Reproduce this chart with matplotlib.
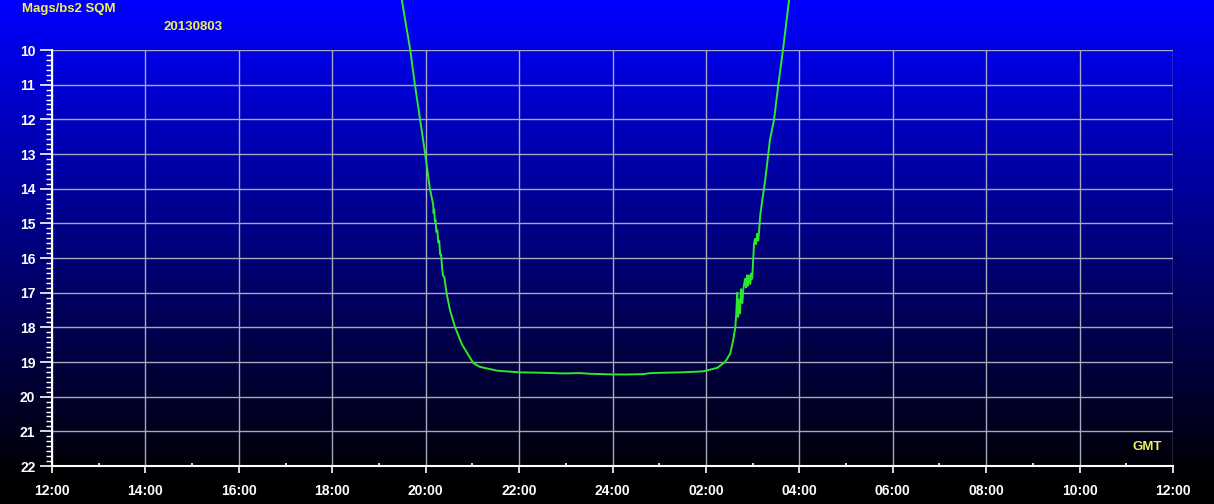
import matplotlib
matplotlib.use("Agg")
import matplotlib.pyplot as plt
import numpy as np
from matplotlib.ticker import MultipleLocator, AutoMinorLocator

# --- data: hours after 12:00 (GMT) and sky brightness (mag/arcsec^2) ---
hours = [7.45, 7.49, 7.67, 7.77, 7.88, 7.99, 8.09, 8.16, 8.17, 8.18, 8.20, 8.21,
         8.23, 8.25, 8.27, 8.29, 8.31, 8.33, 8.35, 8.37, 8.40, 8.43, 8.46, 8.52,
         8.63, 8.78, 9.02, 9.16, 9.53, 10.02, 10.50, 10.94, 11.30, 11.52, 11.80,
         12.01, 12.30, 12.66, 12.81, 13.10, 13.45, 13.94, 14.24, 14.41, 14.52,
         14.58, 14.63, 14.65, 14.67, 14.69, 14.71, 14.73, 14.75, 14.78, 14.80,
         14.84, 14.86, 14.88, 14.90, 14.92, 14.95, 14.97, 14.99, 15.01, 15.03,
         15.05, 15.07, 15.10, 15.12, 15.14, 15.16, 15.20, 15.27, 15.37, 15.46,
         15.55, 15.65, 15.78, 15.82]
mags = [8.40, 8.56, 10.00, 11.00, 12.00, 13.00, 14.00, 14.45, 14.70, 14.60, 14.95,
        14.90, 15.25, 15.20, 15.55, 15.50, 15.90, 15.90, 16.25, 16.50, 16.55,
        16.85, 17.10, 17.50, 18.00, 18.50, 19.03, 19.14, 19.25, 19.30, 19.31,
        19.33, 19.32, 19.34, 19.35, 19.36, 19.36, 19.35, 19.32, 19.31, 19.30,
        19.27, 19.17, 19.00, 18.76, 18.40, 18.00, 17.60, 17.00, 17.70, 17.20,
        17.60, 16.90, 17.30, 16.90, 16.60, 16.85, 16.50, 16.80, 16.50, 16.75,
        16.45, 16.60, 16.10, 15.60, 15.45, 15.60, 15.30, 15.50, 15.20, 14.80,
        14.40, 13.75, 12.60, 12.00, 11.00, 10.00, 8.56, 8.30]

x_ticks = list(range(0, 25, 2))
x_labels = ["12:00", "14:00", "16:00", "18:00", "20:00", "22:00", "24:00",
            "02:00", "04:00", "06:00", "08:00", "10:00", "12:00"]
y_ticks = list(range(10, 23))

W, H = 1214, 504
fig = plt.figure(figsize=(W / 100, H / 100), dpi=100)

# background gradient (bright blue at top -> black at bottom)
bg = fig.add_axes([0, 0, 1, 1], zorder=0)
grad = np.linspace(1.0, 0.0, 256)
grad = np.clip((grad * 504 - 24) / 480, 0, 1)
img = np.zeros((256, 1, 3))
img[:, 0, 2] = grad
bg.imshow(img, aspect="auto", extent=[0, 1, 0, 1], origin="upper")
bg.set_axis_off()

ax = fig.add_axes([52 / W, 1 - 466 / H, (1173 - 52) / W, (466 - 50) / H], zorder=1)
ax.patch.set_alpha(0)
ax.set_xlim(0, 24)
ax.set_ylim(22, 10)

grid_c = "#a8a8bc"
for xv in x_ticks:
    ax.axvline(xv, color=grid_c, lw=1.0, zorder=1)
for yv in y_ticks:
    ax.axhline(yv, color=grid_c, lw=1.0, zorder=1)

ax.plot(hours, mags, color="#2ee82e", lw=1.4, zorder=3, clip_on=False)

ax.set_xticks(x_ticks)
ax.set_xticklabels(x_labels)
ax.set_yticks(y_ticks)
ax.xaxis.set_minor_locator(MultipleLocator(1))
ax.yaxis.set_minor_locator(AutoMinorLocator(7))

for sp in ["top", "right"]:
    ax.spines[sp].set_visible(False)
for sp in ["left", "bottom"]:
    ax.spines[sp].set_color("white")
    ax.spines[sp].set_linewidth(1.5)

ax.tick_params(axis="x", which="major", direction="out", length=5, width=1.2,
               colors="white", pad=8, labelsize=10)
ax.tick_params(axis="x", which="minor", direction="in", length=2.5, width=1.2,
               colors="white")
ax.tick_params(axis="y", which="major", direction="out", length=8.5, width=1.2,
               colors="white", pad=3.5, labelsize=10)
ax.tick_params(axis="y", which="minor", direction="out", length=4, width=1.0,
               colors="white")
for lab in ax.get_xticklabels() + ax.get_yticklabels():
    lab.set_fontfamily("Liberation Sans")
    lab.set_fontweight("bold")
    lab.set_color("white")

yel = "#f2f25a"
fig.text(22 / W, 1 - 9 / H, "Mags/bs2 SQM", color=yel, fontsize=9.5,
         fontweight="bold", family="Liberation Sans", ha="left", va="center")
fig.text(163 / W, 1 - 27 / H, "20130803", color=yel, fontsize=9.5,
         fontweight="bold", family="Liberation Sans", ha="left", va="center")
fig.text(1147 / W, 1 - 447 / H, "GMT", color=yel, fontsize=9.5,
         fontweight="bold", family="Liberation Sans", ha="center", va="center")

fig.savefig("out.png", dpi=100)
